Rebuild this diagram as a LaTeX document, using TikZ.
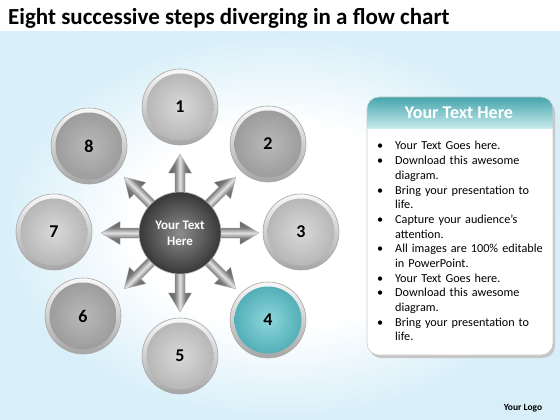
\documentclass[tikz,border=0pt]{standalone}
\usepackage{fontspec}
\setmainfont{Carlito}
\definecolor{bgblue}{HTML}{D8EFF9}
\definecolor{tealA}{HTML}{44A5AD}
\definecolor{tealB}{HTML}{C6EAEC}
\definecolor{tealIn}{HTML}{8ED6DB}
\definecolor{tealOut}{HTML}{4BAAB3}
\definecolor{mA}{HTML}{5E5E5E}
\definecolor{mB}{HTML}{7C7C7C}
\definecolor{mC}{HTML}{E2E2E2}
\pgfdeclareradialshading{bgshade}{\pgfpoint{0bp}{0bp}}{color(0bp)=(white); color(13bp)=(white); color(25bp)=(bgblue); color(50bp)=(bgblue)}
\pgfdeclareverticalshading{metal}{100bp}{color(0bp)=(mA); color(25bp)=(mA); color(39bp)=(mB); color(50bp)=(mC); color(61bp)=(mB); color(75bp)=(mA); color(100bp)=(mA)}
\newcommand\itm[1]{\par\hangindent=18pt\hangafter=1\noindent\makebox[18pt][l]{\textbullet}#1}
\tikzset{
  ring/.style={circle, minimum size=76pt, inner sep=0pt, draw=gray!70, line width=0.6pt,
    top color=gray!5, bottom color=gray!70, font=\bfseries\fontsize{18}{20}\selectfont},
  lightc/.style={ring, path picture={\shade[inner color=gray!30, outer color=gray!60]
    (path picture bounding box.center) circle (33.5pt);}},
  darkc/.style={ring, path picture={\shade[inner color=gray!55, outer color=gray!80]
    (path picture bounding box.center) circle (33.5pt);}},
  tealc/.style={ring, path picture={\shade[inner color=tealIn, outer color=tealOut]
    (path picture bounding box.center) circle (33.5pt);}},
  arrowbody/.style={shading=metal, draw=gray!70, line width=0.3pt}
}
\begin{document}
\begin{tikzpicture}[x=1pt,y=-1pt]
\useasboundingbox (0,0) rectangle (560,420);
\fill[white] (0,0) rectangle (560,420);
\shade[shading=bgshade] (0,32) rectangle (560,420);
\node[anchor=base west, inner sep=0pt, font=\bfseries\fontsize{23}{25}\selectfont] (title) at (8,25)
  {Eight successive steps diverging in a flow chart};
% arrows
\coordinate (H) at (180,233);
\foreach \a in {0,45,...,315}{
  \begin{scope}[transform canvas={shift={(H)}, rotate=\a}]
    \shade[arrowbody] (0,-5) -- (60,-5) -- (60,-11.5) -- (79,0) -- (60,11.5) -- (60,5) -- (0,5) -- cycle;
  \end{scope}
}
% hub
\node[circle, minimum size=82pt, inner sep=0pt, draw=gray!60, line width=0.6pt,
  inner color=black!45, outer color=black!78, text=white, align=center,
  font=\bfseries\fontsize{13}{16}\selectfont] (hub) at (H) {Your Text\\Here};
% circles
\node[lightc] (c1) at (180,107) {1};
\node[darkc]  (c2) at (268,144) {2};
\node[lightc] (c3) at (301,232) {3};
\node[tealc]  (c4) at (268,320) {4};
\node[lightc] (c5) at (180,356) {5};
\node[darkc]  (c6) at (83,316) {6};
\node[lightc] (c7) at (54,232) {7};
\node[darkc]  (c8) at (89,146) {8};
% panel
\fill[gray!45, rounded corners=12pt] (369,100) rectangle (555,358);
\fill[white, rounded corners=12pt] (367,97) rectangle (553,355);
\begin{scope}
  \clip[rounded corners=12pt] (367,97) rectangle (553,355);
  \shade[top color=tealA, bottom color=tealB] (367,97) rectangle (553,128);
\end{scope}
\draw[gray!40, line width=0.6pt, rounded corners=12pt] (367,97) rectangle (553,355);
\node[text=white, font=\bfseries\fontsize{18}{20}\selectfont] (head) at (459,113) {Your Text Here};
\node[anchor=north west, inner sep=0pt, text width=172pt, align=left,
  font=\fontsize{12.2}{14.7}\selectfont] (list) at (377,135) {%
\itm{Your Text Goes here.}
\itm{Download this awesome\newline diagram.}
\itm{Bring your presentation to\newline life.}
\itm{Capture your audience’s\newline attention.}
\itm{All images are 100\% editable\newline in PowerPoint.}
\itm{Your Text Goes here.}
\itm{Download this awesome\newline diagram.}
\itm{Bring your presentation to\newline life.}\par};
\node[font=\bfseries\fontsize{9.5}{10}\selectfont] (logo) at (523,408) {Your Logo};
\end{tikzpicture}
\end{document}
